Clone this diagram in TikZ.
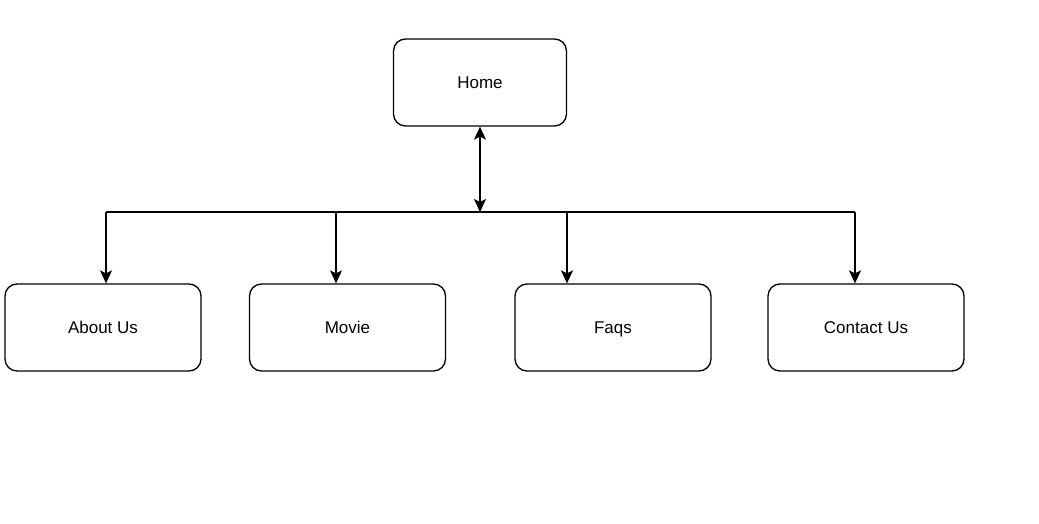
\documentclass[tikz,border=0pt]{standalone}
\usepackage{fontspec}
\setmainfont{Liberation Sans}
\usetikzlibrary{arrows.meta, positioning}

\begin{document}
\begin{tikzpicture}[x=1pt, y=1pt, line width=1.3pt,
    page/.style = {draw, rounded corners=12pt, minimum width=196pt,
                   minimum height=87pt, text height=14pt, text depth=2pt,
                   font=\fontsize{17}{20}\selectfont},
    link/.style = {-{Stealth[length=13pt, width=12pt, inset=3pt]}}]
  \useasboundingbox (0,0) rectangle (1039,523);
  \node[page, minimum width=173pt] (Home) at (480,440.5) {Home};
  \node[page] (About) at (103,195.5) {About Us};
  \node[page] (Movie) at (347.5,195.5) {Movie};
  \node[page] (Faqs) at (613,195.5) {Faqs};
  \node[page] (Contact) at (866,195.5) {Contact Us};
  % bus line
  \coordinate (hub) at (480,311);
  \coordinate (b1) at (106,311);
  \coordinate (b2) at (336,311);
  \coordinate (b3) at (567,311);
  \coordinate (b4) at (855,311);
  \draw (b1) -- (b4);
  \draw[{Stealth[length=13pt, width=12pt, inset=3pt]}-{Stealth[length=13pt, width=12pt, inset=3pt]}]
    (Home.south) -- (hub);
  \draw[link] (b1) -- (b1 |- About.north);
  \draw[link] (b2) -- (b2 |- Movie.north);
  \draw[link] (b3) -- (b3 |- Faqs.north);
  \draw[link] (b4) -- (b4 |- Contact.north);
\end{tikzpicture}
\end{document}
